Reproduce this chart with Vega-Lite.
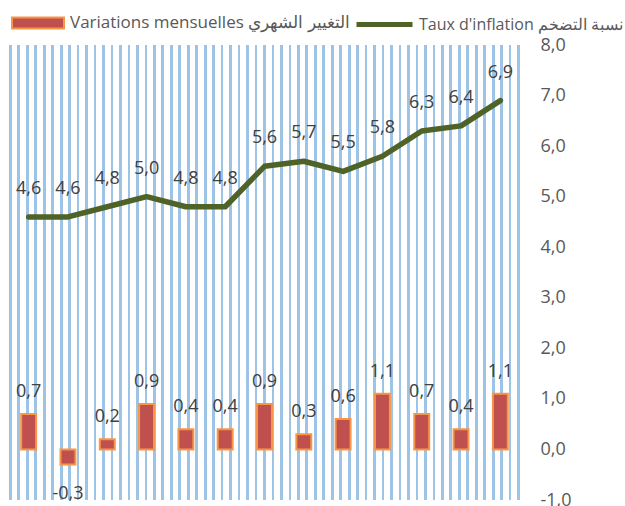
{
  "$schema": "https://vega.github.io/schema/vega-lite/v6.json",
  "autosize": "none",
  "width": 511,
  "height": 455,
  "padding": {"left": 9, "top": 45, "right": 105, "bottom": 6},
  "background": "#ffffff",
  "view": {
    "stroke": null,
    "fill": {
      "gradient": "linear", "x1": 0, "y1": 0, "x2": 1, "y2": 0,
      "stops": [
        {"offset": 0.0000, "color": "#9DC3E6"}, {"offset": 0.0053, "color": "#9DC3E6"}, {"offset": 0.0053, "color": "#ffffff"},
        {"offset": 0.0166, "color": "#ffffff"}, {"offset": 0.0166, "color": "#9DC3E6"}, {"offset": 0.0219, "color": "#9DC3E6"}, {"offset": 0.0219, "color": "#ffffff"},
        {"offset": 0.0332, "color": "#ffffff"}, {"offset": 0.0332, "color": "#9DC3E6"}, {"offset": 0.0385, "color": "#9DC3E6"}, {"offset": 0.0385, "color": "#ffffff"},
        {"offset": 0.0497, "color": "#ffffff"}, {"offset": 0.0497, "color": "#9DC3E6"}, {"offset": 0.0550, "color": "#9DC3E6"}, {"offset": 0.0550, "color": "#ffffff"},
        {"offset": 0.0663, "color": "#ffffff"}, {"offset": 0.0663, "color": "#9DC3E6"}, {"offset": 0.0716, "color": "#9DC3E6"}, {"offset": 0.0716, "color": "#ffffff"},
        {"offset": 0.0829, "color": "#ffffff"}, {"offset": 0.0829, "color": "#9DC3E6"}, {"offset": 0.0882, "color": "#9DC3E6"}, {"offset": 0.0882, "color": "#ffffff"},
        {"offset": 0.0995, "color": "#ffffff"}, {"offset": 0.0995, "color": "#9DC3E6"}, {"offset": 0.1048, "color": "#9DC3E6"}, {"offset": 0.1048, "color": "#ffffff"},
        {"offset": 0.1160, "color": "#ffffff"}, {"offset": 0.1160, "color": "#9DC3E6"}, {"offset": 0.1213, "color": "#9DC3E6"}, {"offset": 0.1213, "color": "#ffffff"},
        {"offset": 0.1326, "color": "#ffffff"}, {"offset": 0.1326, "color": "#9DC3E6"}, {"offset": 0.1379, "color": "#9DC3E6"}, {"offset": 0.1379, "color": "#ffffff"},
        {"offset": 0.1492, "color": "#ffffff"}, {"offset": 0.1492, "color": "#9DC3E6"}, {"offset": 0.1545, "color": "#9DC3E6"}, {"offset": 0.1545, "color": "#ffffff"},
        {"offset": 0.1658, "color": "#ffffff"}, {"offset": 0.1658, "color": "#9DC3E6"}, {"offset": 0.1711, "color": "#9DC3E6"}, {"offset": 0.1711, "color": "#ffffff"},
        {"offset": 0.1823, "color": "#ffffff"}, {"offset": 0.1823, "color": "#9DC3E6"}, {"offset": 0.1876, "color": "#9DC3E6"}, {"offset": 0.1876, "color": "#ffffff"},
        {"offset": 0.1989, "color": "#ffffff"}, {"offset": 0.1989, "color": "#9DC3E6"}, {"offset": 0.2042, "color": "#9DC3E6"}, {"offset": 0.2042, "color": "#ffffff"},
        {"offset": 0.2155, "color": "#ffffff"}, {"offset": 0.2155, "color": "#9DC3E6"}, {"offset": 0.2208, "color": "#9DC3E6"}, {"offset": 0.2208, "color": "#ffffff"},
        {"offset": 0.2321, "color": "#ffffff"}, {"offset": 0.2321, "color": "#9DC3E6"}, {"offset": 0.2374, "color": "#9DC3E6"}, {"offset": 0.2374, "color": "#ffffff"},
        {"offset": 0.2486, "color": "#ffffff"}, {"offset": 0.2486, "color": "#9DC3E6"}, {"offset": 0.2539, "color": "#9DC3E6"}, {"offset": 0.2539, "color": "#ffffff"},
        {"offset": 0.2652, "color": "#ffffff"}, {"offset": 0.2652, "color": "#9DC3E6"}, {"offset": 0.2705, "color": "#9DC3E6"}, {"offset": 0.2705, "color": "#ffffff"},
        {"offset": 0.2818, "color": "#ffffff"}, {"offset": 0.2818, "color": "#9DC3E6"}, {"offset": 0.2871, "color": "#9DC3E6"}, {"offset": 0.2871, "color": "#ffffff"},
        {"offset": 0.2984, "color": "#ffffff"}, {"offset": 0.2984, "color": "#9DC3E6"}, {"offset": 0.3037, "color": "#9DC3E6"}, {"offset": 0.3037, "color": "#ffffff"},
        {"offset": 0.3149, "color": "#ffffff"}, {"offset": 0.3149, "color": "#9DC3E6"}, {"offset": 0.3202, "color": "#9DC3E6"}, {"offset": 0.3202, "color": "#ffffff"},
        {"offset": 0.3315, "color": "#ffffff"}, {"offset": 0.3315, "color": "#9DC3E6"}, {"offset": 0.3368, "color": "#9DC3E6"}, {"offset": 0.3368, "color": "#ffffff"},
        {"offset": 0.3481, "color": "#ffffff"}, {"offset": 0.3481, "color": "#9DC3E6"}, {"offset": 0.3534, "color": "#9DC3E6"}, {"offset": 0.3534, "color": "#ffffff"},
        {"offset": 0.3647, "color": "#ffffff"}, {"offset": 0.3647, "color": "#9DC3E6"}, {"offset": 0.3700, "color": "#9DC3E6"}, {"offset": 0.3700, "color": "#ffffff"},
        {"offset": 0.3812, "color": "#ffffff"}, {"offset": 0.3812, "color": "#9DC3E6"}, {"offset": 0.3865, "color": "#9DC3E6"}, {"offset": 0.3865, "color": "#ffffff"},
        {"offset": 0.3978, "color": "#ffffff"}, {"offset": 0.3978, "color": "#9DC3E6"}, {"offset": 0.4031, "color": "#9DC3E6"}, {"offset": 0.4031, "color": "#ffffff"},
        {"offset": 0.4144, "color": "#ffffff"}, {"offset": 0.4144, "color": "#9DC3E6"}, {"offset": 0.4197, "color": "#9DC3E6"}, {"offset": 0.4197, "color": "#ffffff"},
        {"offset": 0.4310, "color": "#ffffff"}, {"offset": 0.4310, "color": "#9DC3E6"}, {"offset": 0.4363, "color": "#9DC3E6"}, {"offset": 0.4363, "color": "#ffffff"},
        {"offset": 0.4475, "color": "#ffffff"}, {"offset": 0.4475, "color": "#9DC3E6"}, {"offset": 0.4528, "color": "#9DC3E6"}, {"offset": 0.4528, "color": "#ffffff"},
        {"offset": 0.4641, "color": "#ffffff"}, {"offset": 0.4641, "color": "#9DC3E6"}, {"offset": 0.4694, "color": "#9DC3E6"}, {"offset": 0.4694, "color": "#ffffff"},
        {"offset": 0.4807, "color": "#ffffff"}, {"offset": 0.4807, "color": "#9DC3E6"}, {"offset": 0.4860, "color": "#9DC3E6"}, {"offset": 0.4860, "color": "#ffffff"},
        {"offset": 0.4973, "color": "#ffffff"}, {"offset": 0.4973, "color": "#9DC3E6"}, {"offset": 0.5026, "color": "#9DC3E6"}, {"offset": 0.5026, "color": "#ffffff"},
        {"offset": 0.5138, "color": "#ffffff"}, {"offset": 0.5138, "color": "#9DC3E6"}, {"offset": 0.5191, "color": "#9DC3E6"}, {"offset": 0.5191, "color": "#ffffff"},
        {"offset": 0.5304, "color": "#ffffff"}, {"offset": 0.5304, "color": "#9DC3E6"}, {"offset": 0.5357, "color": "#9DC3E6"}, {"offset": 0.5357, "color": "#ffffff"},
        {"offset": 0.5470, "color": "#ffffff"}, {"offset": 0.5470, "color": "#9DC3E6"}, {"offset": 0.5523, "color": "#9DC3E6"}, {"offset": 0.5523, "color": "#ffffff"},
        {"offset": 0.5636, "color": "#ffffff"}, {"offset": 0.5636, "color": "#9DC3E6"}, {"offset": 0.5689, "color": "#9DC3E6"}, {"offset": 0.5689, "color": "#ffffff"},
        {"offset": 0.5801, "color": "#ffffff"}, {"offset": 0.5801, "color": "#9DC3E6"}, {"offset": 0.5854, "color": "#9DC3E6"}, {"offset": 0.5854, "color": "#ffffff"},
        {"offset": 0.5967, "color": "#ffffff"}, {"offset": 0.5967, "color": "#9DC3E6"}, {"offset": 0.6020, "color": "#9DC3E6"}, {"offset": 0.6020, "color": "#ffffff"},
        {"offset": 0.6133, "color": "#ffffff"}, {"offset": 0.6133, "color": "#9DC3E6"}, {"offset": 0.6186, "color": "#9DC3E6"}, {"offset": 0.6186, "color": "#ffffff"},
        {"offset": 0.6299, "color": "#ffffff"}, {"offset": 0.6299, "color": "#9DC3E6"}, {"offset": 0.6352, "color": "#9DC3E6"}, {"offset": 0.6352, "color": "#ffffff"},
        {"offset": 0.6464, "color": "#ffffff"}, {"offset": 0.6464, "color": "#9DC3E6"}, {"offset": 0.6517, "color": "#9DC3E6"}, {"offset": 0.6517, "color": "#ffffff"},
        {"offset": 0.6630, "color": "#ffffff"}, {"offset": 0.6630, "color": "#9DC3E6"}, {"offset": 0.6683, "color": "#9DC3E6"}, {"offset": 0.6683, "color": "#ffffff"},
        {"offset": 0.6796, "color": "#ffffff"}, {"offset": 0.6796, "color": "#9DC3E6"}, {"offset": 0.6849, "color": "#9DC3E6"}, {"offset": 0.6849, "color": "#ffffff"},
        {"offset": 0.6962, "color": "#ffffff"}, {"offset": 0.6962, "color": "#9DC3E6"}, {"offset": 0.7015, "color": "#9DC3E6"}, {"offset": 0.7015, "color": "#ffffff"},
        {"offset": 0.7127, "color": "#ffffff"}, {"offset": 0.7127, "color": "#9DC3E6"}, {"offset": 0.7180, "color": "#9DC3E6"}, {"offset": 0.7180, "color": "#ffffff"},
        {"offset": 0.7293, "color": "#ffffff"}, {"offset": 0.7293, "color": "#9DC3E6"}, {"offset": 0.7346, "color": "#9DC3E6"}, {"offset": 0.7346, "color": "#ffffff"},
        {"offset": 0.7459, "color": "#ffffff"}, {"offset": 0.7459, "color": "#9DC3E6"}, {"offset": 0.7512, "color": "#9DC3E6"}, {"offset": 0.7512, "color": "#ffffff"},
        {"offset": 0.7625, "color": "#ffffff"}, {"offset": 0.7625, "color": "#9DC3E6"}, {"offset": 0.7678, "color": "#9DC3E6"}, {"offset": 0.7678, "color": "#ffffff"},
        {"offset": 0.7790, "color": "#ffffff"}, {"offset": 0.7790, "color": "#9DC3E6"}, {"offset": 0.7843, "color": "#9DC3E6"}, {"offset": 0.7843, "color": "#ffffff"},
        {"offset": 0.7956, "color": "#ffffff"}, {"offset": 0.7956, "color": "#9DC3E6"}, {"offset": 0.8009, "color": "#9DC3E6"}, {"offset": 0.8009, "color": "#ffffff"},
        {"offset": 0.8122, "color": "#ffffff"}, {"offset": 0.8122, "color": "#9DC3E6"}, {"offset": 0.8175, "color": "#9DC3E6"}, {"offset": 0.8175, "color": "#ffffff"},
        {"offset": 0.8288, "color": "#ffffff"}, {"offset": 0.8288, "color": "#9DC3E6"}, {"offset": 0.8341, "color": "#9DC3E6"}, {"offset": 0.8341, "color": "#ffffff"},
        {"offset": 0.8453, "color": "#ffffff"}, {"offset": 0.8453, "color": "#9DC3E6"}, {"offset": 0.8506, "color": "#9DC3E6"}, {"offset": 0.8506, "color": "#ffffff"},
        {"offset": 0.8619, "color": "#ffffff"}, {"offset": 0.8619, "color": "#9DC3E6"}, {"offset": 0.8672, "color": "#9DC3E6"}, {"offset": 0.8672, "color": "#ffffff"},
        {"offset": 0.8785, "color": "#ffffff"}, {"offset": 0.8785, "color": "#9DC3E6"}, {"offset": 0.8838, "color": "#9DC3E6"}, {"offset": 0.8838, "color": "#ffffff"},
        {"offset": 0.8951, "color": "#ffffff"}, {"offset": 0.8951, "color": "#9DC3E6"}, {"offset": 0.9004, "color": "#9DC3E6"}, {"offset": 0.9004, "color": "#ffffff"},
        {"offset": 0.9116, "color": "#ffffff"}, {"offset": 0.9116, "color": "#9DC3E6"}, {"offset": 0.9169, "color": "#9DC3E6"}, {"offset": 0.9169, "color": "#ffffff"},
        {"offset": 0.9282, "color": "#ffffff"}, {"offset": 0.9282, "color": "#9DC3E6"}, {"offset": 0.9335, "color": "#9DC3E6"}, {"offset": 0.9335, "color": "#ffffff"},
        {"offset": 0.9448, "color": "#ffffff"}, {"offset": 0.9448, "color": "#9DC3E6"}, {"offset": 0.9501, "color": "#9DC3E6"}, {"offset": 0.9501, "color": "#ffffff"},
        {"offset": 0.9614, "color": "#ffffff"}, {"offset": 0.9614, "color": "#9DC3E6"}, {"offset": 0.9667, "color": "#9DC3E6"}, {"offset": 0.9667, "color": "#ffffff"},
        {"offset": 0.9779, "color": "#ffffff"}, {"offset": 0.9779, "color": "#9DC3E6"}, {"offset": 0.9832, "color": "#9DC3E6"}, {"offset": 0.9832, "color": "#ffffff"},
        {"offset": 0.9945, "color": "#ffffff"}, {"offset": 0.9945, "color": "#9DC3E6"}, {"offset": 0.9998, "color": "#9DC3E6"}, {"offset": 0.9998, "color": "#ffffff"},
        {"offset": 1.0000, "color": "#ffffff"}
      ]
    }
  },
  "config": {
    "font": "Open Sans",
    "locale": {"number": {"decimal": ",", "thousands": " ", "grouping": [3], "currency": ["", " €"], "minus": "-"}}
  },
  "data": {
    "values": [
      {"m": 1, "rate": 4.6, "change": 0.7},
      {"m": 2, "rate": 4.6, "change": -0.3},
      {"m": 3, "rate": 4.8, "change": 0.2},
      {"m": 4, "rate": 5.0, "change": 0.9},
      {"m": 5, "rate": 4.8, "change": 0.4},
      {"m": 6, "rate": 4.8, "change": 0.4},
      {"m": 7, "rate": 5.6, "change": 0.9},
      {"m": 8, "rate": 5.7, "change": 0.3},
      {"m": 9, "rate": 5.5, "change": 0.6},
      {"m": 10, "rate": 5.8, "change": 1.1},
      {"m": 11, "rate": 6.3, "change": 0.7},
      {"m": 12, "rate": 6.4, "change": 0.4},
      {"m": 13, "rate": 6.9, "change": 1.1}
    ]
  },
  "encoding": {
    "x": {"field": "m", "type": "ordinal", "axis": null,
          "scale": {"paddingInner": 0.62, "paddingOuter": 0.31}}
  },
  "layer": [
    {
      "mark": {"type": "bar", "stroke": "#F79646", "strokeWidth": 2},
      "encoding": {
        "y": {"field": "change", "type": "quantitative",
              "scale": {"domain": [-1, 8], "nice": false, "zero": true},
              "axis": {"orient": "right", "values": [-1, 0, 1, 2, 3, 4, 5, 6, 7, 8], "format": ".1f",
                       "title": null, "grid": false, "domain": false, "ticks": false,
                       "labelPadding": 20, "labelFontSize": 18, "labelColor": "#595959", "labelAlign": "left"}},
        "fill": {"datum": "Variations mensuelles التغيير الشهري", "type": "nominal",
                 "scale": {"range": ["#C0504D"]},
                 "legend": {"orient": "none", "legendX": 2, "legendY": -49, "title": null, "padding": 0,
                            "symbolType": "M-1,-0.21H1V0.21H-1Z", "symbolSize": 2704,
                            "symbolStrokeColor": "#F79646", "symbolStrokeWidth": 2, "symbolOpacity": 1,
                            "labelFontSize": 17, "labelColor": "#595959", "labelOffset": 5, "labelLimit": 0}}
      }
    },
    {
      "mark": {"type": "line", "strokeWidth": 5.5, "strokeCap": "round", "strokeJoin": "round"},
      "encoding": {
        "y": {"field": "rate", "type": "quantitative"},
        "stroke": {"datum": "Taux d'inflation نسبة التضخم", "type": "nominal",
                   "scale": {"range": ["#4F6228"]},
                   "legend": {"orient": "none", "legendX": 345, "legendY": -51, "title": null, "padding": 0,
                              "symbolType": "stroke", "symbolSize": 3136, "symbolStrokeWidth": 5,
                              "labelFontSize": 16, "labelColor": "#595959", "labelOffset": 4, "labelLimit": 0}}
      }
    },
    {
      "mark": {"type": "text", "fontSize": 18, "color": "#404040", "dy": -23, "baseline": "alphabetic", "align": "center"},
      "encoding": {
        "y": {"field": "rate", "type": "quantitative"},
        "text": {"field": "rate", "type": "quantitative", "format": ".1f"}
      }
    },
    {
      "transform": [{"filter": "datum.change >= 0"}],
      "mark": {"type": "text", "fontSize": 18, "color": "#404040", "dy": -17, "baseline": "alphabetic", "align": "center"},
      "encoding": {
        "y": {"field": "change", "type": "quantitative"},
        "text": {"field": "change", "type": "quantitative", "format": ".1f"}
      }
    },
    {
      "transform": [{"filter": "datum.change < 0"}],
      "mark": {"type": "text", "fontSize": 18, "color": "#404040", "dy": 34, "baseline": "alphabetic", "align": "center"},
      "encoding": {
        "y": {"field": "change", "type": "quantitative"},
        "text": {"field": "change", "type": "quantitative", "format": ".1f"}
      }
    }
  ]
}
